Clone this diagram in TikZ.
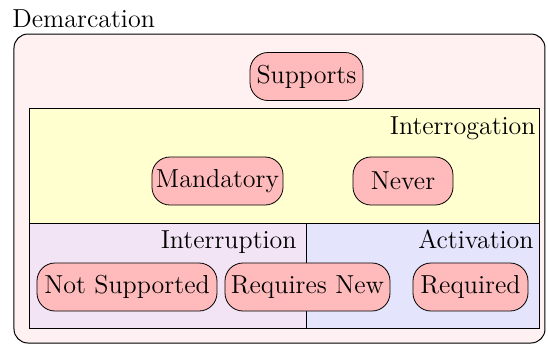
\documentclass[tikz,border=0pt]{standalone}
\usetikzlibrary{positioning}
\definecolor{demarc}{RGB}{255,241,241}
\definecolor{interrog}{RGB}{255,255,208}
\definecolor{interrup}{RGB}{242,228,244}
\definecolor{activ}{RGB}{228,228,252}
\definecolor{statepink}{RGB}{255,187,187}
\tikzset{
  state/.style  = {draw, rounded corners=9pt, fill=statepink,
                   minimum height=24pt, inner xsep=2pt,
                   font=\fontsize{13}{15}\selectfont},
  region/.style = {draw, line width=0.5pt},
  lbl/.style    = {inner sep=0pt, anchor=base east,
                   font=\fontsize{13}{15}\selectfont}
}

\begin{document}
\begin{tikzpicture}[x=0.5pt, y=-0.5pt]
  \useasboundingbox (0,0) rectangle (548,345);
  % regions
  \draw[region, fill=demarc, rounded corners=7pt] (14,34) rectangle (545,343);
  \draw[region, fill=interrog] (30,108) rectangle (540,223);
  \draw[region, fill=interrup] (30,223) rectangle (307,328);
  \draw[region, fill=activ] (307,223) rectangle (540,328);
  % region labels
  \node[lbl, anchor=base west] (demarcation) at (12,27) {Demarcation};
  \node[lbl] (interrogation) at (536,134) {Interrogation};
  \node[lbl] (interruption) at (297,248) {Interruption};
  \node[lbl] (activation) at (534,248) {Activation};
  % states
  \node[state, minimum width=56.5pt] (supports) at (306.5,76.5) {Supports};
  \node[state, minimum width=65.5pt] (mandatory) at (217.5,181) {Mandatory};
  \node[state, minimum width=50pt] (never) at (403,181) {Never};
  \node[state, minimum width=90pt] (notsupported) at (127,287) {Not Supported};
  \node[state, minimum width=82.5pt] (requiresnew) at (307.5,287) {Requires New};
  \node[state, minimum width=57.5pt] (required) at (470.5,287) {Required};
\end{tikzpicture}
\end{document}
